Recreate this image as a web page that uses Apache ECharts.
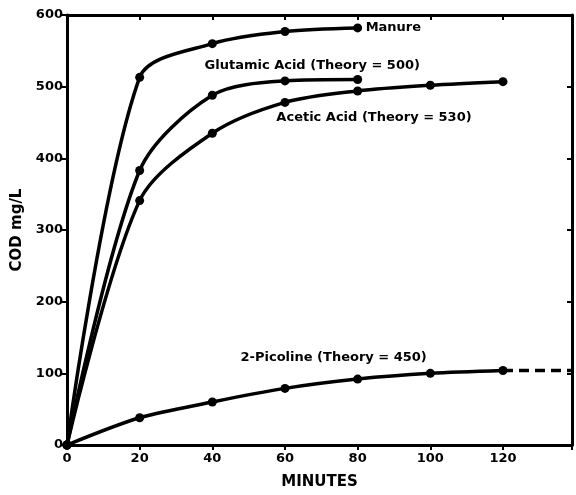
<!DOCTYPE html>
<html>
<head>
<meta charset="utf-8">
<title>COD vs minutes</title>
<script src="https://cdn.jsdelivr.net/npm/echarts@6/dist/echarts.min.js"></script>
<style>
  html, body { margin: 0; padding: 0; background: #fff; }
  #main { width: 576px; height: 495px; }
</style>
</head>
<body>
<div id="main"></div>
<script>
// minutes sampled
var minutes = [0, 20, 40, 60, 80, 100, 120];
// COD mg/L
var manure = [0, 513, 560, 577, 582];
var glutamic = [0, 383, 488, 508, 510];
var acetic = [0, 341, 435, 478, 494, 502, 507];
var picoline = [0, 38, 60, 79, 92, 100, 104];
// dashed extension of 2-Picoline
var picolineExtX = [120, 139];
var picolineExtY = [104, 104];

var xTicks = [0, 20, 40, 60, 80, 100, 120];
var yTicks = [0, 100, 200, 300, 400, 500, 600];

function pairs(xs, ys) {
  var out = [];
  for (var i = 0; i < ys.length; i++) out.push([xs[i], ys[i]]);
  return out;
}

var font = '"DejaVu Sans", Arial, sans-serif';
var chart = echarts.init(document.getElementById('main'));

function curve(name, data) {
  return {
    name: name,
    type: 'line',
    data: data,
    smooth: 0.3,
    symbol: 'circle',
    symbolSize: 9,
    lineStyle: { color: '#000', width: 3.5 },
    itemStyle: { color: '#000' }
  };
}

var frameLine = { show: true, onZero: false, lineStyle: { color: '#000', width: 3 } };

var option = {
  animation: false,
  grid: { left: 67, right: 4, top: 15, bottom: 49 },
  xAxis: [{
    type: 'value', min: 0, max: 139, interval: 20,
    name: 'MINUTES', nameLocation: 'middle', nameGap: 30,
    nameTextStyle: { fontFamily: font, fontWeight: 'bold', fontSize: 15, color: '#000' },
    axisLine: frameLine,
    axisTick: { show: true, lineStyle: { color: '#000', width: 2 }, length: 5 },
    axisLabel: { fontFamily: font, fontWeight: 'bold', fontSize: 13, color: '#000', margin: 7,
      formatter: function (v) { return xTicks.indexOf(v) >= 0 ? v : ''; } },
    splitLine: { show: false }
  }, {
    type: 'value', position: 'top', min: 0, max: 139, interval: 20,
    axisLine: frameLine,
    axisTick: { show: true, inside: true, lineStyle: { color: '#000', width: 2 }, length: 5 },
    axisLabel: { show: false }, splitLine: { show: false }
  }],
  yAxis: [{
    type: 'value', min: 0, max: 600, interval: 100,
    name: 'COD mg/L', nameLocation: 'middle', nameGap: 38,
    nameTextStyle: { fontFamily: font, fontWeight: 'bold', fontSize: 15, color: '#000' },
    axisLine: frameLine,
    axisTick: { show: true, lineStyle: { color: '#000', width: 2 }, length: 5 },
    axisLabel: { fontFamily: font, fontWeight: 'bold', fontSize: 13, color: '#000', margin: 4,
      formatter: function (v) { return yTicks.indexOf(v) >= 0 ? v : ''; } },
    splitLine: { show: false }
  }, {
    type: 'value', position: 'right', min: 0, max: 600, interval: 100,
    axisLine: frameLine,
    axisTick: { show: true, inside: true, lineStyle: { color: '#000', width: 2 }, length: 5 },
    axisLabel: { show: false }, splitLine: { show: false }
  }],
  series: [
    curve('Manure', pairs(minutes, manure)),
    curve('Glutamic Acid', pairs(minutes, glutamic)),
    curve('Acetic Acid', pairs(minutes, acetic)),
    curve('2-Picoline', pairs(minutes, picoline)),
    {
      name: '2-Picoline ext', type: 'line', data: pairs(picolineExtX, picolineExtY),
      symbol: 'none', lineStyle: { color: '#000', width: 3.5, type: [10, 6] }
    }
  ]
};
chart.setOption(option);

// annotations placed next to the curves
var labels = [
  { text: 'Manure', at: [82.2, 582], align: 'left' },
  { text: 'Glutamic Acid (Theory = 500)', at: [67.5, 530], align: 'center' },
  { text: 'Acetic Acid (Theory = 530)', at: [84.5, 457], align: 'center' },
  { text: '2-Picoline (Theory = 450)', at: [73.4, 122.5], align: 'center' }
];
chart.setOption({
  graphic: labels.map(function (l) {
    var p = chart.convertToPixel({ gridIndex: 0 }, l.at);
    return {
      type: 'text', x: p[0], y: p[1],
      style: { text: l.text, fill: '#000', font: 'bold 13px ' + font,
        textAlign: l.align, textVerticalAlign: 'middle' }
    };
  })
});
</script>
</body>
</html>
